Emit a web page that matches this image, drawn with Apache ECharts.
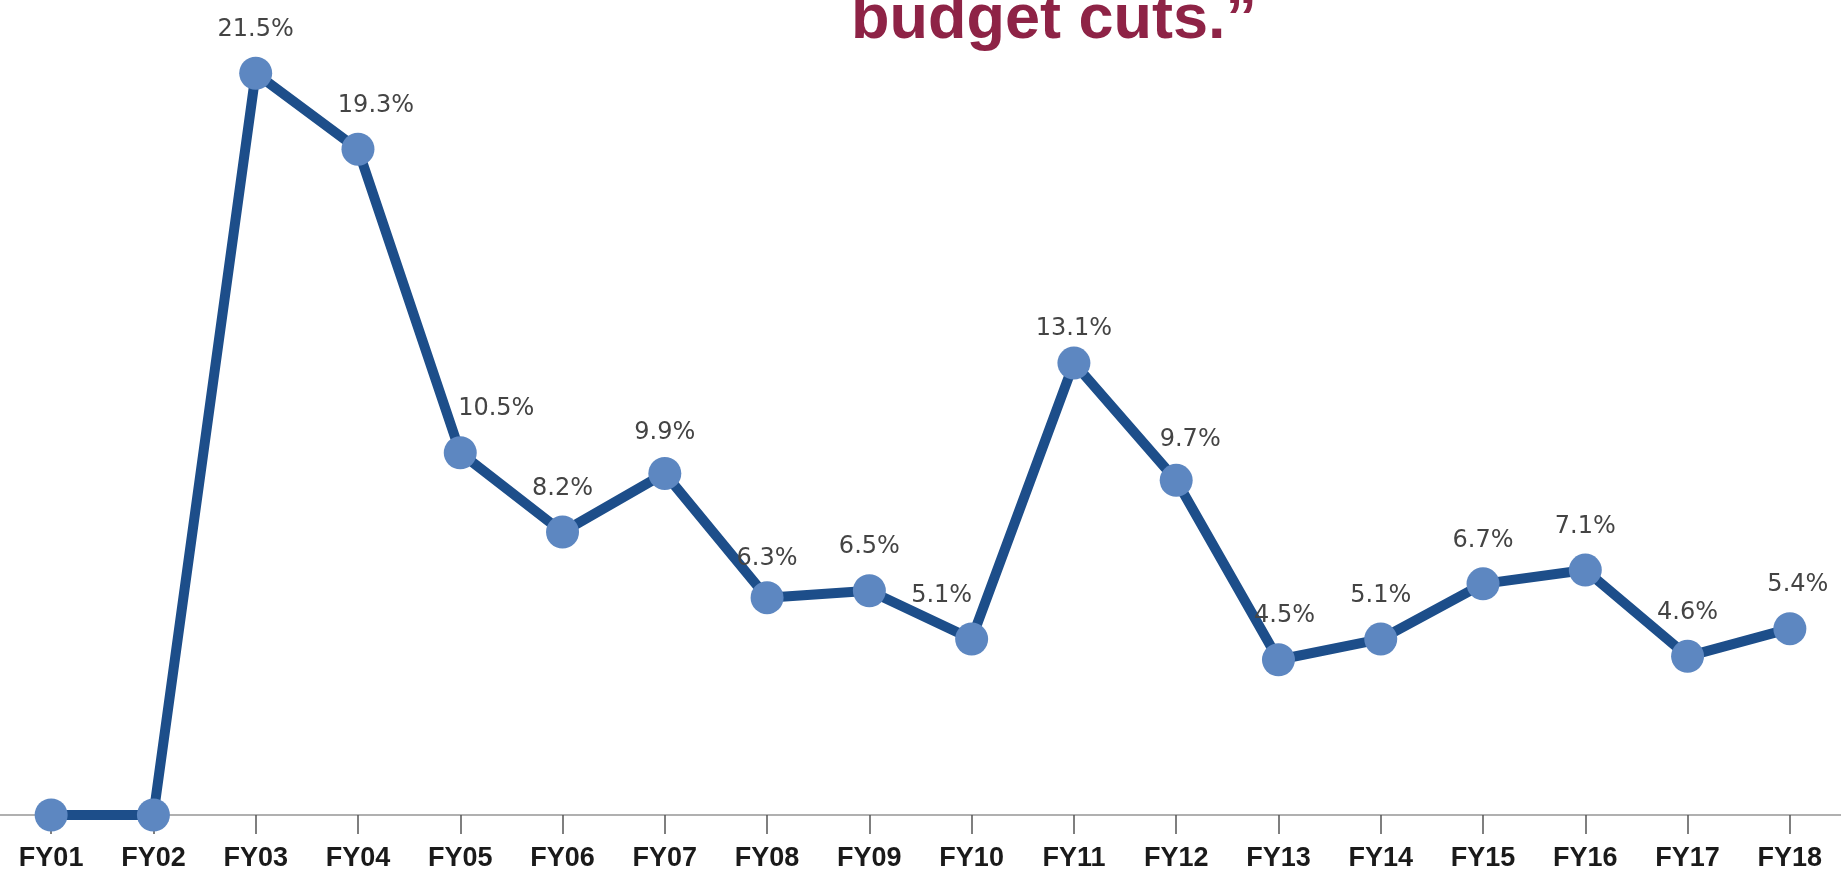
<!DOCTYPE html>
<html>
<head>
<meta charset="utf-8">
<script src="https://cdn.jsdelivr.net/npm/echarts@6/dist/echarts.min.js"></script>
<style>
html,body{margin:0;padding:0;background:#fff;}
#chart{width:1841px;height:872px;}
</style>
</head>
<body>
<div id="chart"></div>
<script>
// ---- data ----
var categories = ['FY01','FY02','FY03','FY04','FY05','FY06','FY07','FY08','FY09','FY10','FY11','FY12','FY13','FY14','FY15','FY16','FY17','FY18'];
var values = [0, 0, 21.5, 19.3, 10.5, 8.2, 9.9, 6.3, 6.5, 5.1, 13.1, 9.7, 4.5, 5.1, 6.7, 7.1, 4.6, 5.4];
var titleText = 'budget cuts.\u201D';

// ---- label nudges (styling only) ----
var labelNudge = {
  3: [18, 0], 4: [36, 0], 6: [0, 3], 7: [0, 5], 9: [-30, 0], 10: [0, 9], 11: [14, 3], 12: [6, 0], 17: [8, 0]
};

var seriesData = values.map(function (v, i) {
  var item = { value: v };
  if (labelNudge[i]) item.label = { offset: labelNudge[i] };
  return item;
});

var chart = echarts.init(document.getElementById('chart'));
chart.setOption({
  animation: false,
  backgroundColor: '#ffffff',
  graphic: [{
    type: 'text',
    x: 851,
    y: 21,
    style: {
      text: titleText,
      fill: '#8E2346',
      font: 'bold 63px "Liberation Sans", Arial, sans-serif',
      align: 'left',
      verticalAlign: 'middle',
      textAlign: 'left',
      textVerticalAlign: 'middle'
    }
  }],
  grid: { left: -5, right: -10, top: 56, bottom: 57, containLabel: false },
  xAxis: {
    type: 'category',
    data: categories,
    boundaryGap: true,
    offset: 3,
    axisLine: { show: true, lineStyle: { color: '#b0b0b0', width: 2 } },
    axisTick: { show: true, alignWithLabel: true, length: 19, lineStyle: { color: '#555', width: 1.5 } },
    axisLabel: {
      margin: 27,
      color: '#1a1a1a',
      fontFamily: '"Liberation Sans", Arial, sans-serif',
      fontWeight: 'bold',
      fontSize: 27
    },
    splitLine: { show: false }
  },
  yAxis: {
    type: 'value', min: 0, max: 22,
    show: false
  },
  series: [{
    type: 'line',
    data: seriesData,
    symbol: 'circle',
    symbolSize: 33,
    lineStyle: { color: '#1D4E8A', width: 10 },
    itemStyle: { color: '#5D87C1', borderWidth: 0 },
    z: 3,
    label: {
      show: true,
      position: 'top',
      distance: 15,
      color: '#444',
      fontFamily: '"DejaVu Sans", Verdana, sans-serif',
      fontSize: 24,
      formatter: function (p) { return p.value ? p.value.toFixed(1) + '%' : ''; }
    }
  }]
});
</script>
</body>
</html>
